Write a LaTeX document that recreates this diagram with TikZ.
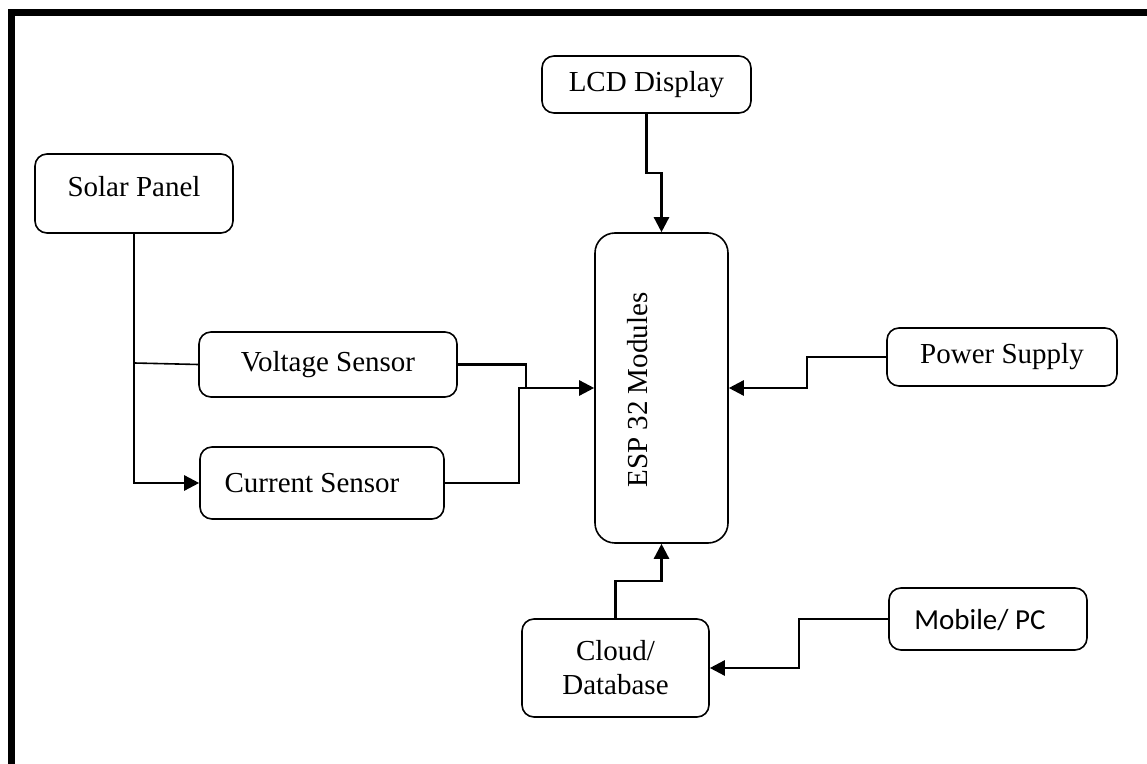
\documentclass[tikz,border=0pt]{standalone}
\usepackage{fontspec}
\setmainfont{Liberation Serif}
\newfontfamily\calfont{Carlito}
\usetikzlibrary{arrows.meta}
\begin{document}
\begin{tikzpicture}[x=0.5pt,y=-0.5pt,
  box/.style={draw,line width=0.8pt,rounded corners=6pt,inner sep=0pt,
    font=\fontsize{14.5}{17}\selectfont},
  txt/.style={inner sep=0pt,font=\fontsize{14.5}{17}\selectfont},
  conn/.style={line width=1.25pt},
  arr/.style={conn,-{Triangle[length=7.5pt,width=7.5pt]}}]
\useasboundingbox (0,0) rectangle (1147,764);
\fill[white] (0,0) rectangle (1147,764);
% frame
\draw[line width=3.5pt,line join=miter] (11.5,800) -- (11.5,12.5) -- (1200,12.5);
% boxes
\node[box,minimum width=99pt,minimum height=39.5pt] (sp) at (134,193.5) {};
\node[txt] (spt) at (134,187) {Solar Panel};
\node[box,minimum width=129pt,minimum height=32.5pt] (vs) at (328,364.5) {Voltage Sensor};
\node[box,minimum width=122pt,minimum height=36pt] (cs) at (322,483) {};
\node[txt] (cst) at (312,483) {Current Sensor};
\node[box,minimum width=104.5pt,minimum height=28.5pt] (lcd) at (646.5,84.5) {LCD Display};
\node[box,rounded corners=10pt,minimum width=66.5pt,minimum height=155pt] (esp) at (661.5,388) {};
\node[txt,rotate=90] (espt) at (638,390) {ESP 32 Modules};
\node[box,minimum width=115pt,minimum height=29pt] (ps) at (1002,357) {Power Supply};
\node[box,minimum width=93.5pt,minimum height=49pt,align=center] (cl) at (615.5,668) {Cloud/\\Database};
\node[box,minimum width=99pt,minimum height=31pt] (mb) at (988,619) {};
\node[txt,font=\calfont\fontsize{14.5}{17}\selectfont] (mbt) at (980,620) {Mobile/ PC};
% junction coordinates
\coordinate (j1) at (134,363);
\coordinate (v1) at (526,364.5);
\coordinate (v2) at (526,388);
\coordinate (c1) at (519,483);
\coordinate (l1) at (646.5,173);
\coordinate (l2) at (661.5,173);
\coordinate (p1) at (807,357);
\coordinate (d1) at (615.5,581);
\coordinate (d2) at (661.5,581);
\coordinate (m1) at (799,619);
% connectors
\draw[arr] (sp.south) |- (cs.west);
\draw[line width=0.8pt] (j1) -- (vs.west);
\draw[conn] (vs.east) -- (v1) -- (v2);
\draw[arr] (cs.east) -- (c1) |- (esp.west);
\draw[arr] (lcd.south) -- (l1) -- (l2) -- (esp.north);
\draw[arr] (ps.west) -- (p1) |- (esp.east);
\draw[arr] (cl.north) -- (d1) -- (d2) -- (esp.south);
\draw[arr] (mb.west) -- (m1) |- (cl.east);
\end{tikzpicture}
\end{document}
